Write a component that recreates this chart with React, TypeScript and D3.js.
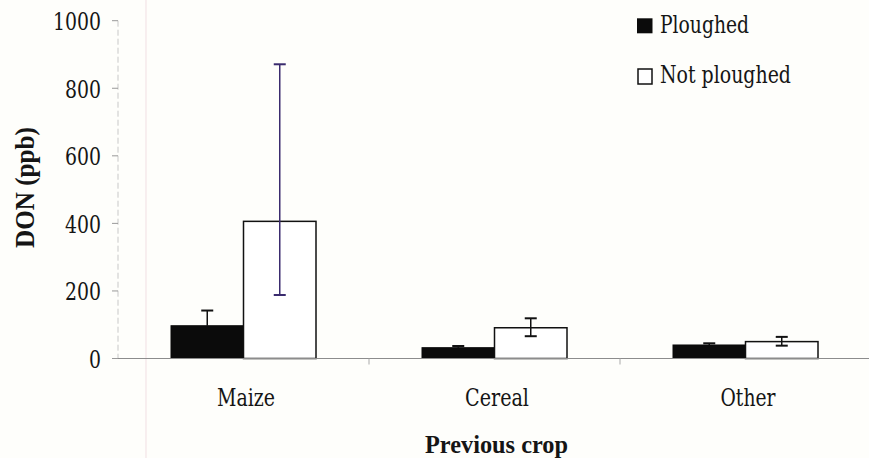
import React from "react";
import * as d3 from "d3";

// DON concentration by previous crop and tillage
const categories = ["Maize", "Cereal", "Other"];
const ploughed = [97, 32, 40];
const ploughedErrHigh = [142, 37, 45];
const notPloughed = [406, 91, 50];
const notPloughedErrHigh = [871, 119, 64];
const notPloughedErrLow = [188, 66, 38];
const yTicks = [0, 200, 400, 600, 800, 1000];
const seriesNames = ["Ploughed", "Not ploughed"];

const W = 869;
const H = 458;
const serif = "'DejaVu Serif', serif";
const serifBold = "'Liberation Serif', 'DejaVu Serif', serif";

// fitted text widths
const catWidth: Record<string, number> = { Maize: 58, Cereal: 64, Other: 55 };
const legendWidth = [89, 131];

export default function App() {
  const x = d3.scaleBand<string>().domain(categories).range([118, 871]);
  const y = d3.scaleLinear().domain([0, 1000]).range([358.5, 20.7]);
  const barW = 72.5;
  const cap = 6;
  const txt = { fontFamily: serif, fontSize: "24px", fill: "#151515" };
  const bold = { fontFamily: serifBold, fontWeight: "bold" as const, fill: "#151515" };

  return (
    <svg
      width={W}
      height={H}
      style={{ position: "absolute", left: 0, top: 0, background: "#fefefb" }}
    >
      <rect width={W} height={H} fill="#fefefb" />
      {/* faint vertical rule */}
      <line x1={146} x2={146} y1={0} y2={H} stroke="#f1dfe3" strokeWidth={1} />

      {/* y axis */}
      <line x1={118} x2={118} y1={y(1000)} y2={y(0)} stroke="#c8c8c8" strokeWidth={1} strokeDasharray="6 3" />
      {yTicks.map((t) => (
        <g key={t}>
          <line x1={112} x2={118} y1={y(t)} y2={y(t)} stroke="#999" strokeWidth={1} />
          <text
            x={101}
            y={y(t) + 9.5}
            textAnchor="end"
            style={txt}
            textLength={String(t).length * 12}
            lengthAdjust="spacingAndGlyphs"
          >
            {t}
          </text>
        </g>
      ))}

      {/* bars */}
      {categories.map((c, i) => {
        const cx = (x(c) as number) + x.bandwidth() / 2;
        const px = cx - barW;
        const nx = cx;
        const ex = nx + barW / 2;
        const col = i === 0 ? "#3a2b6e" : "#111";
        return (
          <g key={c}>
            {/* ploughed error */}
            <line x1={px + barW / 2} x2={px + barW / 2} y1={y(ploughed[i])} y2={y(ploughedErrHigh[i])} stroke="#111" strokeWidth={1.5} />
            <line x1={px + barW / 2 - cap} x2={px + barW / 2 + cap} y1={y(ploughedErrHigh[i])} y2={y(ploughedErrHigh[i])} stroke="#111" strokeWidth={2} />
            <rect x={px} y={y(ploughed[i])} width={barW} height={y(0) - y(ploughed[i])} fill="#0b0b0b" stroke="#0b0b0b" strokeWidth={1} />
            <rect x={nx} y={y(notPloughed[i])} width={barW} height={y(0) - y(notPloughed[i])} fill="#fff" stroke="#111" strokeWidth={1.5} />
            {/* not ploughed error */}
            <line x1={ex} x2={ex} y1={y(notPloughedErrHigh[i])} y2={y(notPloughedErrLow[i])} stroke={col} strokeWidth={1.5} />
            <line x1={ex - cap} x2={ex + cap} y1={y(notPloughedErrHigh[i])} y2={y(notPloughedErrHigh[i])} stroke={col} strokeWidth={2} />
            <line x1={ex - cap} x2={ex + cap} y1={y(notPloughedErrLow[i])} y2={y(notPloughedErrLow[i])} stroke={col} strokeWidth={2} />
            <text
              x={cx + 2.5}
              y={406}
              textAnchor="middle"
              style={txt}
              textLength={catWidth[c]}
              lengthAdjust="spacingAndGlyphs"
            >
              {c}
            </text>
          </g>
        );
      })}

      {/* x axis */}
      <line x1={118} x2={W} y1={y(0)} y2={y(0)} stroke="#8c8c8c" strokeWidth={1} />
      {categories.slice(1).map((c) => (
        <line key={c} x1={x(c) as number} x2={x(c) as number} y1={y(0)} y2={y(0) + 6} stroke="#aaa" strokeWidth={1} />
      ))}

      {/* axis titles */}
      <text
        x={496.5}
        y={453}
        textAnchor="middle"
        style={{ ...bold, fontSize: "25px" }}
        textLength={143}
        lengthAdjust="spacingAndGlyphs"
      >
        Previous crop
      </text>
      <text
        transform={`translate(33.5,187.5) rotate(-90)`}
        textAnchor="middle"
        style={{ ...bold, fontSize: "28px" }}
        textLength={121}
        lengthAdjust="spacingAndGlyphs"
      >
        DON (ppb)
      </text>

      {/* legend */}
      <rect x={637} y={18.3} width={15.5} height={15} fill="#0b0b0b" />
      <text x={660} y={32.7} style={txt} textLength={legendWidth[0]} lengthAdjust="spacingAndGlyphs">
        {seriesNames[0]}
      </text>
      <rect x={638} y={69} width={14} height={15} fill="#fff" stroke="#111" strokeWidth={1.5} />
      <text x={660} y={83} style={txt} textLength={legendWidth[1]} lengthAdjust="spacingAndGlyphs">
        {seriesNames[1]}
      </text>
    </svg>
  );
}
